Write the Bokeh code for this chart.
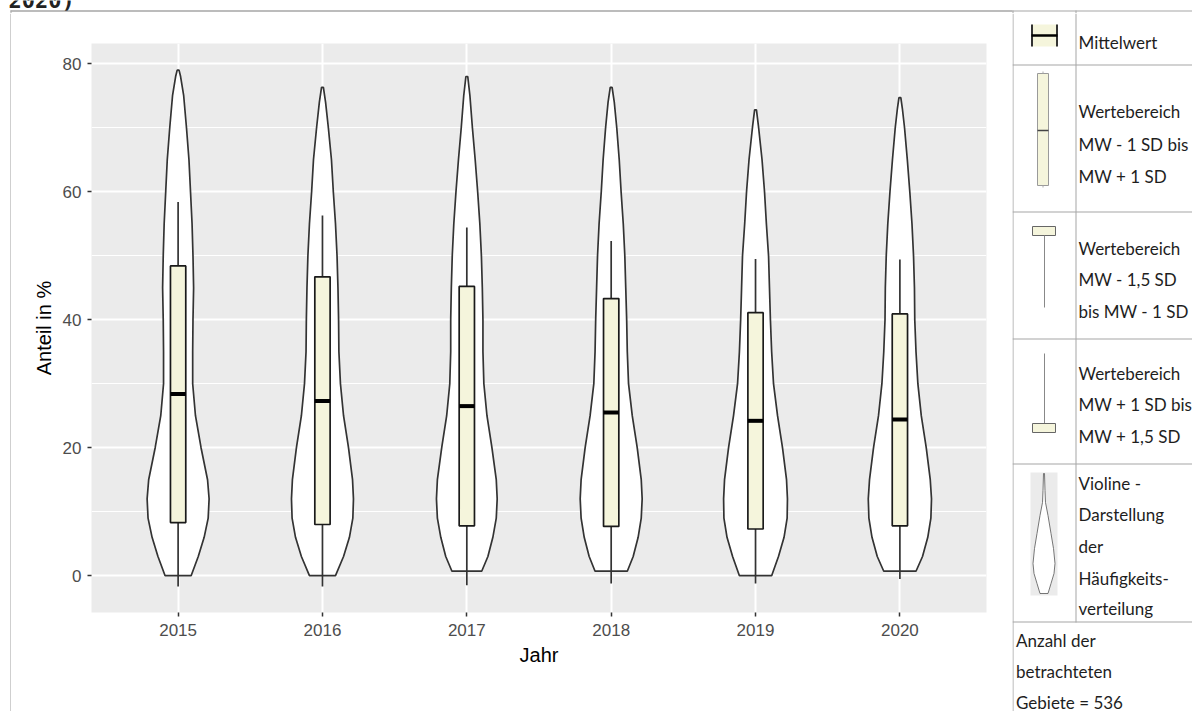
from bokeh.plotting import figure
from bokeh.models import FactorRange, Range1d, FixedTicker
from bokeh.layouts import row, column
from bokeh.embed import file_html
from bokeh.resources import INLINE
from bokeh.core.properties import value

# ---------------- data ----------------
years = ["2015", "2016", "2017", "2018", "2019", "2020"]
means = [28.4, 27.3, 26.5, 25.5, 24.2, 24.4]          # Mittelwert
sd_low = [8.3, 8.0, 7.8, 7.7, 7.3, 7.8]               # MW - 1 SD
sd_high = [48.4, 46.7, 45.2, 43.3, 41.1, 40.9]        # MW + 1 SD
whisk_low = [-1.7, -1.7, -1.5, -1.2, -1.2, -0.5]      # MW - 1,5 SD
whisk_high = [58.4, 56.3, 54.4, 52.3, 49.5, 49.4]     # MW + 1,5 SD

# violin outlines: level (Anteil in %) and relative density
violin_y_2015 = [0, 3, 6, 9, 12, 15, 20, 25, 30, 35, 40, 45, 50, 55, 60, 65, 70, 75, 78, 79]
violin_d_2015 = [0.42, 0.65, 0.84, 0.97, 1.0, 0.95, 0.74, 0.56, 0.47, 0.47, 0.48, 0.50, 0.48, 0.45, 0.40, 0.35, 0.27, 0.18, 0.08, 0.03]
violin_y_2016 = [0, 3, 6, 9, 12, 15, 20, 25, 30, 35, 40, 45, 50, 55, 60, 65, 70, 74, 76.3]
violin_d_2016 = [0.42, 0.68, 0.87, 0.98, 1.0, 0.97, 0.84, 0.68, 0.58, 0.53, 0.52, 0.50, 0.47, 0.42, 0.35, 0.29, 0.19, 0.10, 0.03]
violin_y_2017 = [0.7, 3, 6, 9, 12, 15, 20, 25, 30, 35, 40, 45, 50, 55, 60, 65, 70, 75, 78]
violin_d_2017 = [0.48, 0.68, 0.84, 0.95, 0.98, 0.95, 0.81, 0.65, 0.55, 0.52, 0.52, 0.50, 0.47, 0.42, 0.35, 0.27, 0.18, 0.10, 0.03]
violin_y_2018 = [0.7, 3, 6, 9, 12, 15, 20, 25, 30, 35, 40, 45, 50, 55, 60, 65, 70, 74, 76.3]
violin_d_2018 = [0.52, 0.71, 0.87, 0.97, 1.0, 0.97, 0.84, 0.68, 0.56, 0.52, 0.50, 0.47, 0.44, 0.39, 0.32, 0.26, 0.18, 0.10, 0.03]
violin_y_2019 = [0, 3, 6, 9, 12, 15, 20, 25, 30, 35, 40, 45, 50, 55, 60, 65, 70, 72.8]
violin_d_2019 = [0.52, 0.74, 0.92, 1.02, 1.03, 1.0, 0.87, 0.71, 0.58, 0.52, 0.48, 0.45, 0.42, 0.35, 0.29, 0.21, 0.10, 0.03]
violin_y_2020 = [0.7, 3, 6, 9, 12, 15, 20, 25, 30, 35, 40, 45, 50, 55, 60, 65, 70, 73, 74.7]
violin_d_2020 = [0.52, 0.73, 0.90, 1.0, 1.02, 0.98, 0.85, 0.69, 0.58, 0.52, 0.48, 0.47, 0.44, 0.39, 0.32, 0.24, 0.15, 0.08, 0.03]

y_ticks = [0, 20, 40, 60, 80]
y_minor = [10, 30, 50, 70]

legend_rows = [
    ["Mittelwert"],
    ["Wertebereich", "MW - 1 SD bis", "MW + 1 SD"],
    ["Wertebereich", "MW - 1,5 SD", "bis MW - 1 SD"],
    ["Wertebereich", "MW + 1 SD bis", "MW + 1,5 SD"],
    ["Violine -", "Darstellung", "der", "Häufigkeits-", "verteilung"],
]
note_lines = ["Anzahl der", "betrachteten", "Gebiete = 536"]
title_fragment = "2020)"

# ---------------- styles ----------------
VIOLIN_HALF = 0.2147
BOX_W = 0.106
BEIGE = "#F5F5DC"
FONT = "Liberation Sans"
LFONT = "Lato"
TL = "#A6A6A6"      # table lines
FL = "#7A7A7A"      # chart frame line
TOP = 13            # height of the top strip


def blank(w, h, xr, yr):
    f = figure(width=w, height=h, x_range=Range1d(*xr), y_range=Range1d(*yr),
               min_border=0, output_backend="svg", toolbar_location=None, outline_line_color=None)
    f.frame_align = False
    f.axis.visible = False
    f.grid.visible = False
    return f


# ---------------- top strip (cut heading + top frame line) ----------------
ts = blank(1192, TOP, (0, 1192), (TOP, 0))
ts.text(x=[8], y=[-0.5], text=[title_fragment], text_font=value("DejaVu Sans Mono"),
        text_font_size="22px", text_font_style="bold", text_baseline="alphabetic", text_color="#222222")
ts.quad(left=[10, 1012], right=[1012, 1192], top=[10, 10], bottom=[11, 11],
        fill_color=[FL, TL], line_color=None)
ts.quad(left=[10, 1012, 1075], right=[11, 1013, 1076], top=[10, 10, 10], bottom=[TOP, TOP, TOP],
        fill_color=TL, line_color=None)

# ---------------- left strip (left frame line) ----------------
ls = blank(11, 711 - TOP, (0, 11), (711, TOP))
ls.quad(left=[10], right=[11], top=[TOP], bottom=[711], fill_color="#A0A0A0", line_color=None)

# ---------------- main chart ----------------
p = figure(x_range=FactorRange(factors=years, range_padding=0.1, range_padding_units="absolute"),
           y_range=Range1d(-5.75, 83.16), width=1001, height=711 - TOP,
           min_border_left=80, min_border_right=26, min_border_top=43 - TOP, min_border_bottom=99,
           output_backend="svg", toolbar_location=None,
           background_fill_color="#EBEBEB", border_fill_color="white", outline_line_color=None)
p.frame_align = False

p.yaxis.ticker = FixedTicker(ticks=y_ticks, minor_ticks=y_minor)
p.xgrid.grid_line_color = "white"
p.xgrid.grid_line_width = 2
p.ygrid.grid_line_color = "white"
p.ygrid.grid_line_width = 2
p.ygrid.minor_grid_line_color = "white"
p.ygrid.minor_grid_line_width = 1

for ax in (p.xaxis[0], p.yaxis[0]):
    ax.axis_line_color = None
    ax.major_tick_line_color = "#333333"
    ax.major_tick_line_width = 1.5
    ax.major_tick_in = 0
    ax.major_tick_out = 4
    ax.minor_tick_line_color = None
    ax.major_label_text_font = FONT
    ax.major_label_text_font_size = "17px"
    ax.major_label_text_color = "#4D4D4D"
    ax.axis_label_text_font = FONT
    ax.axis_label_text_font_size = "20px"
    ax.axis_label_text_font_style = "normal"
    ax.axis_label_text_color = "black"
p.yaxis.major_label_standoff = 6
p.xaxis.major_label_standoff = 7
p.yaxis.axis_label = "Anteil in %"
p.xaxis.axis_label = "Jahr"
p.yaxis.axis_label_standoff = 5
p.xaxis.axis_label_standoff = 5

violins = [
    (violin_y_2015, violin_d_2015), (violin_y_2016, violin_d_2016), (violin_y_2017, violin_d_2017),
    (violin_y_2018, violin_d_2018), (violin_y_2019, violin_d_2019), (violin_y_2020, violin_d_2020),
]
for yr, (vy, vd) in zip(years, violins):
    xs = [(yr, d * VIOLIN_HALF) for d in vd] + [(yr, -d * VIOLIN_HALF) for d in reversed(vd)]
    ys = list(vy) + list(reversed(vy))
    p.patch(xs, ys, fill_color="white", line_color="#333333", line_width=1.7)

p.segment(x0=years, y0=whisk_low, x1=years, y1=whisk_high, line_color="#333333", line_width=1.7)
p.vbar(x=years, width=BOX_W, bottom=sd_low, top=sd_high, fill_color=BEIGE,
       line_color="#1A1A1A", line_width=1.7)
p.segment(x0=[(y, -BOX_W / 2) for y in years], x1=[(y, BOX_W / 2) for y in years],
          y0=means, y1=means, line_color="black", line_width=4, line_cap="butt")

# ---------------- legend table ----------------
lg = blank(180, 711 - TOP, (1012, 1192), (711, TOP))

lg.quad(left=[1012, 1075], right=[1013, 1076], top=[TOP, TOP], bottom=[711, 622], fill_color=TL, line_color=None)
hy = [64, 211, 338, 463, 621]
lg.quad(left=[1012] * len(hy), right=[1192] * len(hy), top=hy, bottom=[h + 1 for h in hy],
        fill_color=TL, line_color=None)

row_baselines = [[42], [111, 143.5, 175.5], [247.5, 279, 310.5], [372.5, 404, 435.5],
                 [482.5, 514, 545.5, 577.5, 607.5]]
tx, ty, tt = [], [], []
for lines, bases in zip(legend_rows, row_baselines):
    for t, b in zip(lines, bases):
        tx.append(1078); ty.append(b); tt.append(t)
for t, b in zip(note_lines, [640, 671, 701.5]):
    tx.append(1015.5); ty.append(b); tt.append(t)
lg.text(x=tx, y=ty, text=tt, text_font=value(LFONT), text_font_size="17px",
        text_baseline="alphabetic", text_align="left", text_color="#1E1E1E")

# icon 1: mean
lg.quad(left=[1031], right=[1057], top=[24], bottom=[46], fill_color=BEIGE, line_color=None)
lg.segment(x0=[1031.5, 1056.5], x1=[1031.5, 1056.5], y0=[24, 24], y1=[46, 46], line_color="#333333", line_width=2)
lg.segment(x0=[1031], x1=[1057], y0=[35], y1=[35], line_color="black", line_width=2.5)
# icon 2: +-1 SD box
lg.quad(left=[1037], right=[1048], top=[73], bottom=[185], fill_color=BEIGE, line_color="#9A9A9A", line_width=1)
lg.segment(x0=[1037], x1=[1048], y0=[130], y1=[130], line_color="#444444", line_width=1.5)
lg.segment(x0=[1042.5, 1042.5], x1=[1042.5, 1042.5], y0=[71, 185], y1=[73, 187], line_color="#AAAAAA", line_width=1)
# icon 3: lower whisker
lg.quad(left=[1032], right=[1055], top=[226], bottom=[235], fill_color=BEIGE, line_color="#666666", line_width=1)
lg.segment(x0=[1044], x1=[1044], y0=[235], y1=[307], line_color="#888888", line_width=1)
# icon 4: upper whisker
lg.segment(x0=[1044], x1=[1044], y0=[353], y1=[423], line_color="#888888", line_width=1)
lg.quad(left=[1032], right=[1055], top=[423], bottom=[432], fill_color=BEIGE, line_color="#666666", line_width=1)
# icon 5: violin
lg.quad(left=[1030], right=[1057], top=[472], bottom=[595], fill_color="#EBEBEB", line_color=None)
iy = [473, 490, 502, 515, 533, 548, 563, 573, 583, 593]
iw = [0.5, 1, 1.5, 4, 7, 9.5, 11, 10, 7, 4]
ixs = [1043.5 + w for w in iw] + [1043.5 - w for w in reversed(iw)]
iys = iy + list(reversed(iy))
lg.patch(ixs, iys, fill_color="white", line_color="#555555", line_width=0.8)

layout = column(ts, row(ls, p, lg, spacing=0), spacing=0)

open("out.html", "w").write(file_html(layout, INLINE))
